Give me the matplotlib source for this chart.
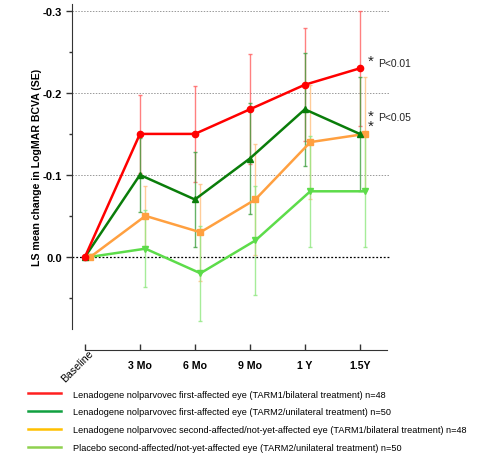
import numpy as np
import matplotlib.pyplot as plt
import matplotlib.transforms as mtransforms

plt.rcParams['font.family'] = ['Liberation Sans', 'DejaVu Sans']

timepoints = ["Baseline", "3 Mo", "6 Mo", "9 Mo", "1 Y", "1.5Y"]

# LS mean change (negative = improvement), plotted on an inverted axis
red_mean = [0.0, -0.15, -0.15, -0.18, -0.21, -0.23]
red_se = [0.0, 0.048, 0.059, 0.067, 0.069, 0.07]
dkgreen_mean = [0.0, -0.10, -0.07, -0.12, -0.18, -0.15]
dkgreen_se = [0.0, 0.045, 0.058, 0.068, 0.069, 0.07]
orange_mean = [0.0, -0.05, -0.03, -0.07, -0.14, -0.15]
orange_se = [0.0, 0.037, 0.059, 0.068, 0.07, 0.07]
ltgreen_mean = [0.0, -0.01, 0.02, -0.02, -0.08, -0.08]
ltgreen_se = [0.0, 0.047, 0.058, 0.067, 0.068, 0.068]

labels = [
    "Lenadogene nolparvovec first-affected eye (TARM1/bilateral treatment) n=48",
    "Lenadogene nolparvovec first-affected eye (TARM2/unilateral treatment) n=50",
    "Lenadogene nolparvovec second-affected/not-yet-affected eye (TARM1/bilateral treatment) n=48",
    "Placebo second-affected/not-yet-affected eye (TARM2/unilateral treatment) n=50",
]

x = np.arange(len(timepoints))

fig = plt.figure(figsize=(4.8, 4.56), dpi=100)
ax = fig.add_axes([72/480, 1-330/456, (390-72)/480, (330-5)/456])

series = [
    (red_mean, red_se, "#ff0000", "#ff6060", "o", 0.0),
    (dkgreen_mean, dkgreen_se, "#0a7d0a", "#40a040", "^", 0.0),
    (orange_mean, orange_se, "#ffa040", "#ffc080", "s", 0.1),
    (ltgreen_mean, ltgreen_se, "#5ddc4a", "#90e880", "v", 0.1),
]

for i, (m, se, c, ec, mk, off) in enumerate(series):
    ax.errorbar(x + off, m, yerr=se, fmt="none", ecolor=ec, alpha=0.8, elinewidth=1.0,
                capsize=1.5, capthick=1.0, zorder=2 + i * 0.1)
for i, (m, se, c, ec, mk, off) in enumerate(reversed(series)):
    ax.plot(x + off, m, color=c, marker=mk, markersize=4.5, linewidth=1.8, zorder=5 + i)

ax.set_ylim(0.088, -0.3085)
ax.set_xlim(-0.236, 5.55)
ax.set_yticks([-0.3, -0.2, -0.1, 0.0])
ax.set_yticklabels(["-0.3", "-0.2", "-0.1", "0.0"], fontweight="bold", fontsize=8)
ax.set_yticks([-0.25, -0.15, -0.05, 0.05], minor=True)
for yv in [-0.3, -0.2, -0.1]:
    ax.axhline(yv, color="#999999", linestyle=(0, (1.5, 1.5)), linewidth=0.7, zorder=0)
ax.axhline(0.0, color="black", linestyle=(0, (1.5, 1.5)), linewidth=0.9, zorder=0)

ax.spines["top"].set_visible(False)
ax.spines["right"].set_visible(False)
ax.spines["left"].set_color("#333333")
ax.spines["bottom"].set_color("#333333")
ax.spines["bottom"].set_position(("outward", 15))
ax.spines["bottom"].set_bounds(0, 5.5)
ax.tick_params(axis="y", which="major", length=4, width=1, color="#333333", pad=3)
ax.tick_params(axis="y", which="minor", length=2.5, width=1, color="#333333")
ax.tick_params(axis="x", direction="in", length=4, width=1, color="#333333", pad=7)

ax.set_xticks(x)
ax.set_xticklabels([""] + timepoints[1:], fontweight="bold", fontsize=7.6)
trans = mtransforms.blended_transform_factory(ax.transData, ax.transAxes)
ax.text(0.05, -0.058, timepoints[0], transform=trans, rotation=45, rotation_mode="anchor",
        ha="right", va="top", fontsize=7.6)

ax.set_ylabel("LS mean change in LogMAR BCVA (SE)", fontsize=7.6, fontweight="bold", labelpad=1)

ax.text(5.14, -0.231, "*", fontsize=11, ha="left", va="bottom", color="#222222")
ax.text(5.33, -0.236, "P<0.01", fontsize=7.4, ha="left", va="center", color="#222222")
ax.text(5.14, -0.151, "*\n*", fontsize=11, ha="left", va="bottom", color="#222222",
        linespacing=0.7)
ax.text(5.33, -0.171, "P<0.05", fontsize=7.4, ha="left", va="center", color="#222222")

legend_colors = ["#ff2020", "#10a040", "#ffc000", "#8fd14f"]
handles = [plt.Line2D([], [], color=c, linewidth=1.8) for c in legend_colors]
fig.legend(handles, labels, loc="upper left", bbox_to_anchor=(24/480, 1-387/456),
           frameon=False, fontsize=6.6, handlelength=3.6, handletextpad=1.3,
           labelspacing=0.95, borderaxespad=0)

fig.savefig("out.png", dpi=100)
